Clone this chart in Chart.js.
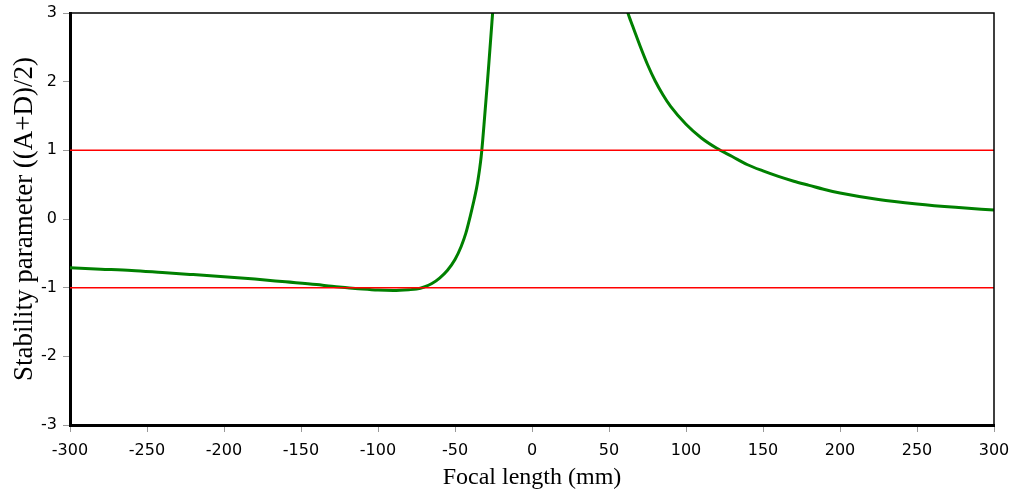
<!DOCTYPE html>
<html>
<head>
    <title>Stability parameter vs focal length</title>
    <script src="https://cdn.jsdelivr.net/npm/chart.js"></script>
    <style>
        body { margin: 0; background: #fff; }
    </style>
</head>
<body>
    <canvas id="stability-chart" width="1012" height="497"></canvas>

    <script>
        // Branch left of the pole (negative focal lengths)
        const leftFocal = [-300, -280, -260, -240, -220, -200, -180, -160, -140, -130, -120, -110, -100, -90, -80,
            -75, -70, -65, -60, -55, -50, -46, -43, -40, -38, -36, -35, -34, -33, -32, -31, -30, -29, -28,
            -27, -26, -25, -24];
        const leftStability = [-0.71, -0.73, -0.75, -0.78, -0.81, -0.84, -0.875, -0.915, -0.955, -0.98, -1.00, -1.02, -1.035, -1.04, -1.03,
            -1.02, -0.99, -0.94, -0.86, -0.75, -0.59, -0.40, -0.21, 0.05, 0.24, 0.45, 0.58, 0.73, 0.91, 1.15, 1.42, 1.70, 1.98, 2.27,
            2.57, 2.87, 3.17, 3.47];

        // Branch right of the pole (positive focal lengths)
        const rightFocal = [58, 60, 62, 64, 66, 70, 75, 80, 85, 90, 100, 110, 120, 130, 140, 150, 160, 170, 180, 190, 200,
            225, 250, 275, 300];
        const rightStability = [3.32, 3.18, 3.02, 2.89, 2.77, 2.53, 2.25, 2.01, 1.81, 1.64, 1.38, 1.18, 1.03, 0.91, 0.79, 0.70, 0.62, 0.55, 0.49, 0.43, 0.38,
            0.285, 0.22, 0.17, 0.13];

        // Stable region lies between these two values
        const stabilityLimits = [1, -1];

        const focalRange = [-300, 300];
        const focalStep = 50;
        const stabilityRange = [-3, 3];
        const stabilityStep = 1;

        const toPoints = (xs, ys) => xs.map((x, i) => ({ x: x, y: ys[i] }));

        const limitDatasets = stabilityLimits.map(limit => ({
            data: focalRange.map(x => ({ x: x, y: limit })),
            borderColor: '#ff0000',
            borderWidth: 1.5,
            pointRadius: 0,
            order: 0
        }));

        const curveStyle = {
            borderColor: '#008000',
            borderWidth: 3,
            pointRadius: 0,
            cubicInterpolationMode: 'monotone',
            clip: { left: 3, right: 3, top: 0, bottom: 0 },
            order: 1
        };

        // Thin frame on the top and right edges of the plot
        const frame = {
            id: 'frame',
            afterDatasetsDraw(chart) {
                const { ctx, chartArea } = chart;
                ctx.save();
                ctx.strokeStyle = '#000';
                ctx.lineWidth = 1.5;
                ctx.beginPath();
                ctx.moveTo(chartArea.left, chartArea.top);
                ctx.lineTo(chartArea.right, chartArea.top);
                ctx.lineTo(chartArea.right, chartArea.bottom);
                ctx.stroke();
                ctx.restore();
            }
        };

        const tickFont = { family: 'DejaVu Sans', size: 16 };

        new Chart(document.getElementById('stability-chart'), {
            type: 'line',
            data: {
                datasets: [
                    ...limitDatasets,
                    { ...curveStyle, data: toPoints(leftFocal, leftStability) },
                    { ...curveStyle, data: toPoints(rightFocal, rightStability) }
                ]
            },
            options: {
                responsive: false,
                animation: false,
                layout: { padding: { top: 13, right: 18, left: 0, bottom: 0 } },
                plugins: { legend: { display: false }, tooltip: { enabled: false } },
                scales: {
                    x: {
                        type: 'linear',
                        min: focalRange[0],
                        max: focalRange[1],
                        afterFit: scale => {
                            scale.height = 72;
                            scale.paddingLeft = 0;
                            scale.paddingRight = 0;
                        },
                        ticks: { stepSize: focalStep, color: '#000', font: tickFont, padding: 9, maxRotation: 0 },
                        grid: { drawOnChartArea: false, tickLength: 7, color: '#999' },
                        border: { color: '#000', width: 3 },
                        title: {
                            display: true,
                            text: 'Focal length (mm)',
                            color: '#000',
                            font: { family: 'Liberation Serif', size: 24 },
                            padding: { top: 0, bottom: 5 }
                        }
                    },
                    y: {
                        min: stabilityRange[0],
                        max: stabilityRange[1],
                        afterFit: scale => {
                            scale.width = 70;
                            scale.paddingTop = 0;
                            scale.paddingBottom = 0;
                        },
                        ticks: { stepSize: stabilityStep, color: '#000', font: tickFont, padding: 6 },
                        grid: { drawOnChartArea: false, tickLength: 7, color: '#999' },
                        border: { color: '#000', width: 3 },
                        title: {
                            display: true,
                            text: 'Stability parameter ((A+D)/2)',
                            color: '#000',
                            font: { family: 'Liberation Serif', size: 27 },
                            padding: { top: 9, bottom: 0 }
                        }
                    }
                }
            },
            plugins: [frame]
        });
    </script>
</body>
</html>
